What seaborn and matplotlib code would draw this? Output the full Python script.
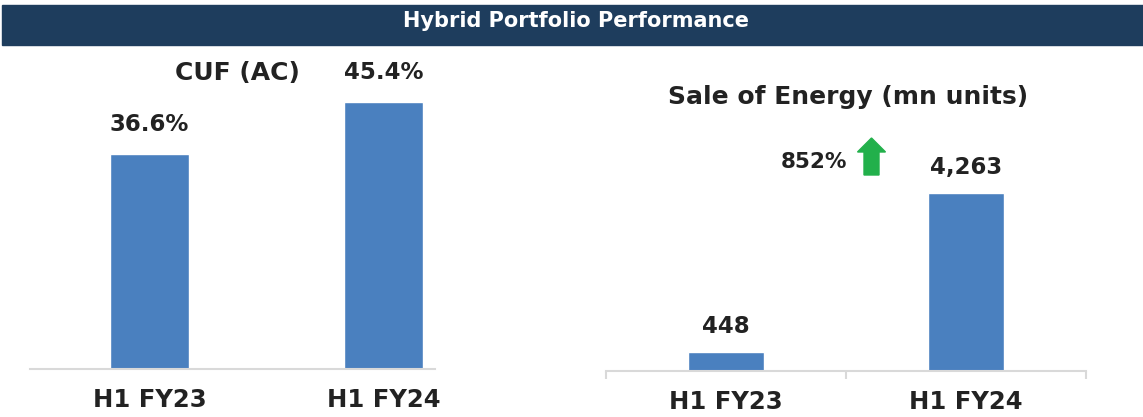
import matplotlib
matplotlib.use("Agg")
import matplotlib.pyplot as plt
import matplotlib.patches as mpatches
import seaborn as sns
import pandas as pd

periods = ["H1 FY23", "H1 FY24"]
cuf_values = [36.6, 45.4]
cuf_labels = ["36.6%", "45.4%"]
energy_values = [448, 4263]
energy_labels = ["448", "4,263"]
growth_label = "852%"
header_title = "Hybrid Portfolio Performance"
cuf_title = "CUF (AC)"
energy_title = "Sale of Energy (mn units)"

sns.set_style("white")
plt.rcParams["font.family"] = ["DejaVu Sans"]

W, H = 1143, 417
fig = plt.figure(figsize=(W / 100, H / 100), dpi=100)

BAR = "#4a80bf"
GRID = "#d9d9d9"
TXT = "#222222"

def px(x0, y0, x1, y1):
    return [x0 / W, 1 - y1 / H, (x1 - x0) / W, (y1 - y0) / H]

# header bar
fig.patches.append(mpatches.Rectangle((2 / W, 1 - 45 / H), 1 - 2 / W, 40 / H,
                                      transform=fig.transFigure, color="#1e3d5d", zorder=0))
fig.text(576 / W, 1 - 21 / H, header_title, color="white", fontsize=15,
         fontweight="bold", ha="center", va="center")

# left chart
df1 = pd.DataFrame({"period": periods, "value": cuf_values})
ax1 = fig.add_axes(px(30, 60, 435, 369))
sns.barplot(data=df1, x="period", y="value", color=BAR, width=0.34, saturation=1, ax=ax1)
ax1.set_xlim(-0.51, 1.22)
ax1.set_ylim(0, 309 / 5.88)
for i, (v, lab) in enumerate(zip(cuf_values, cuf_labels)):
    ax1.annotate(lab, (i, v), xytext=(0, 13), textcoords="offset points",
                 ha="center", va="bottom", fontsize=16.5, fontweight="bold", color=TXT)
fig.text(237 / W, 1 - 73 / H, cuf_title, fontsize=18, fontweight="bold", color=TXT,
         ha="center", va="center")

# right chart
df2 = pd.DataFrame({"period": periods, "value": energy_values})
ax2 = fig.add_axes(px(606, 60, 1086, 371))
sns.barplot(data=df2, x="period", y="value", color=BAR, width=0.317, saturation=1, ax=ax2)
ax2.set_xlim(-0.5, 1.5)
ax2.set_ylim(0, 311 / 0.04175)
for i, (v, lab) in enumerate(zip(energy_values, energy_labels)):
    ax2.annotate(lab, (i, v), xytext=(0, 10), textcoords="offset points",
                 ha="center", va="bottom", fontsize=16.5, fontweight="bold", color=TXT)
fig.text(848 / W, 1 - 97 / H, energy_title, fontsize=18, fontweight="bold", color=TXT,
         ha="center", va="center")
fig.text(814 / W, 1 - 162 / H, growth_label, fontsize=15.5, fontweight="bold", color=TXT,
         ha="center", va="center")
fig.patches.append(mpatches.FancyArrow(871.5 / W, 1 - 175 / H, 0, 37 / H,
                                       width=15 / W, head_width=28 / W, head_length=14 / H,
                                       length_includes_head=True, transform=fig.transFigure,
                                       color="#22b04b"))

for ax in (ax1, ax2):
    ax.set_xlabel("")
    ax.set_ylabel("")
    ax.set_yticks([])
    for s in ("top", "left", "right"):
        ax.spines[s].set_visible(False)
    ax.spines["bottom"].set_color(GRID)
    ax.spines["bottom"].set_linewidth(1.5)
    ax.set_facecolor("none")

ax1.tick_params(axis="x", length=0, pad=14, labelsize=17.5, labelcolor=TXT)
for t in ax1.get_xticklabels():
    t.set_fontweight("bold")

ax2.set_xticks([-0.5, 0.5, 1.5], minor=True)
ax2.tick_params(axis="x", which="minor", bottom=True, length=6, width=1.5, color=GRID,
                direction="out")
ax2.tick_params(axis="x", which="major", length=0, pad=14, labelsize=17.5, labelcolor=TXT)
for t in ax2.get_xticklabels():
    t.set_fontweight("bold")

fig.savefig("out.png", dpi=100)
